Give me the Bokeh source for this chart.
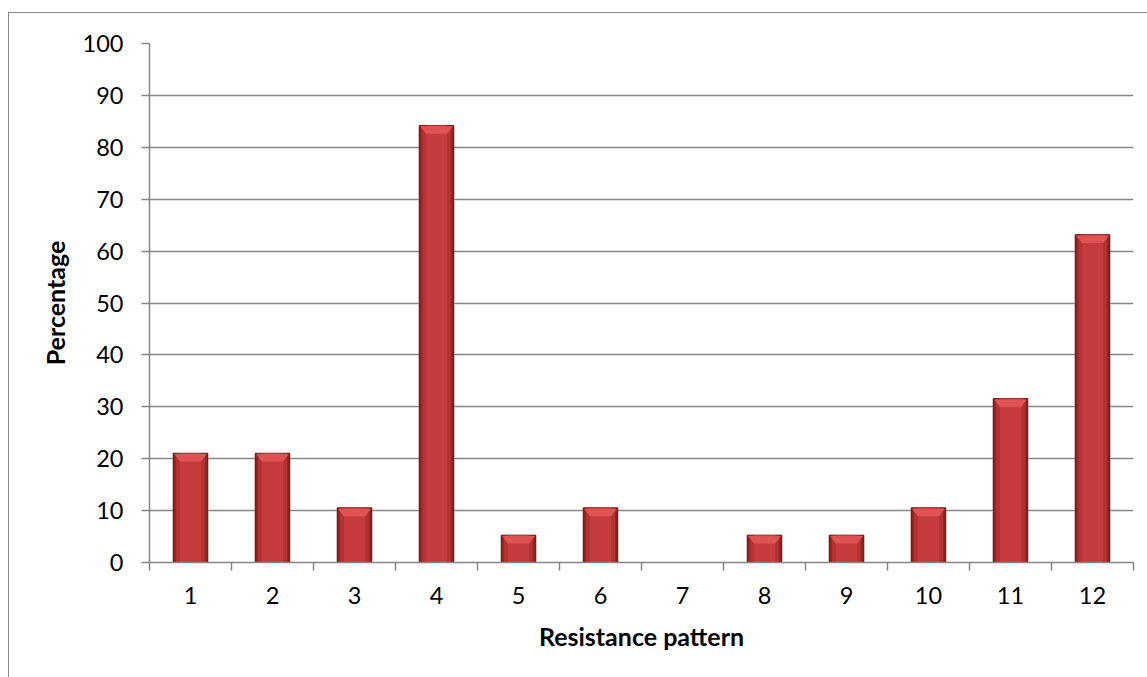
from bokeh.plotting import figure
from bokeh.models import FixedTicker, ColumnDataSource, Range1d
from bokeh.embed import file_html
from bokeh.resources import INLINE

categories = ["1", "2", "3", "4", "5", "6", "7", "8", "9", "10", "11", "12"]
percentages = [21.05, 21.05, 10.53, 84.21, 5.26, 10.53, 0.0, 5.26, 5.26, 10.53, 31.58, 63.16]
y_ticks = [0, 10, 20, 30, 40, 50, 60, 70, 80, 90, 100]

x_pos = [i + 1 for i in range(len(categories))]
boundaries = [i + 0.5 for i in range(len(categories) + 1)]

FONT = "Lato"
GRID = "#868686"

p = figure(width=1139, height=665, output_backend="svg", toolbar_location=None,
           x_range=Range1d(0.5, len(categories) + 0.5), y_range=Range1d(0, 100),
           min_border_left=140, min_border_right=15, min_border_top=30, min_border_bottom=116,
           margin=(12, 0, 0, 8),
           styles={"border-left": "1.5px solid #888888", "border-top": "1.5px solid #888888"})
p.outline_line_color = None
p.background_fill_color = "white"
p.border_fill_color = "white"

# grid
p.xgrid.grid_line_color = None
p.ygrid.grid_line_color = GRID
p.ygrid.grid_line_width = 1.5

# y axis
p.yaxis.ticker = FixedTicker(ticks=y_ticks)
p.yaxis.axis_line_color = GRID
p.yaxis.axis_line_width = 1.5
p.yaxis.major_tick_line_color = GRID
p.yaxis.major_tick_line_width = 1.5
p.yaxis.major_tick_out = 8
p.yaxis.major_tick_in = 0
p.yaxis.minor_tick_line_color = None
p.yaxis.major_label_text_font = FONT
p.yaxis.major_label_text_font_size = "23.5px"
p.yaxis.major_label_text_color = "black"
p.yaxis.major_label_standoff = 18
p.yaxis.axis_label = "Percentage"
p.yaxis.axis_label_text_font = FONT
p.yaxis.axis_label_text_font_style = "bold"
p.yaxis.axis_label_text_font_size = "25px"
p.yaxis.axis_label_text_color = "black"
p.yaxis.axis_label_standoff = 10

# x axis: labels at category centres, tick marks at category boundaries
p.xaxis.ticker = FixedTicker(ticks=x_pos, minor_ticks=boundaries)
p.xaxis.major_label_overrides = {x: c for x, c in zip(x_pos, categories)}
p.xaxis.axis_line_color = GRID
p.xaxis.axis_line_width = 1.5
p.xaxis.major_tick_line_color = None
p.xaxis.major_tick_out = 8
p.xaxis.major_tick_in = 0
p.xaxis.minor_tick_line_color = GRID
p.xaxis.minor_tick_line_width = 1.5
p.xaxis.minor_tick_out = 8
p.xaxis.minor_tick_in = 0
p.xaxis.major_label_text_font = FONT
p.xaxis.major_label_text_font_size = "23.5px"
p.xaxis.major_label_text_color = "black"
p.xaxis.major_label_standoff = 16
p.xaxis.axis_label = "Resistance pattern"
p.xaxis.axis_label_text_font = FONT
p.xaxis.axis_label_text_font_style = "bold"
p.xaxis.axis_label_text_font_size = "25px"
p.xaxis.axis_label_text_color = "black"
p.xaxis.axis_label_standoff = 14

# bars with layered shading to mimic the bevelled 3-D look
src = ColumnDataSource(dict(x=x_pos, top=percentages, cat=categories))
BW = 0.42
p.vbar(x="x", top="top", bottom=0, width=BW + 0.03, source=src,
       fill_color="#d9d9d9", fill_alpha=0.35, line_color=None)  # soft shadow
p.vbar(x="x", top="top", bottom=0, width=BW, source=src,
       fill_color="#8e2222", line_color="#5c1212", line_width=1)
p.vbar(x="x", top="top", bottom=0, width=BW - 0.06, source=src,
       fill_color="#b23131", line_color=None)
p.vbar(x="x", top="top", bottom=0, width=BW - 0.16, source=src,
       fill_color="#c63c3d", line_color=None)

# top bevel (lighter trapezoid) derived from the values
bev_xs, bev_ys = [], []
for x, v in zip(x_pos, percentages):
    if v <= 0:
        continue
    h = min(1.6, v * 0.3)
    bev_xs.append([x - BW / 2 + 0.01, x + BW / 2 - 0.01, x + BW / 2 - 0.08, x - BW / 2 + 0.08])
    bev_ys.append([v - 0.15, v - 0.15, v - h, v - h])
p.patches(bev_xs, bev_ys, fill_color="#df5353", line_color=None)

open("out.html", "w").write(file_html(p, INLINE))
